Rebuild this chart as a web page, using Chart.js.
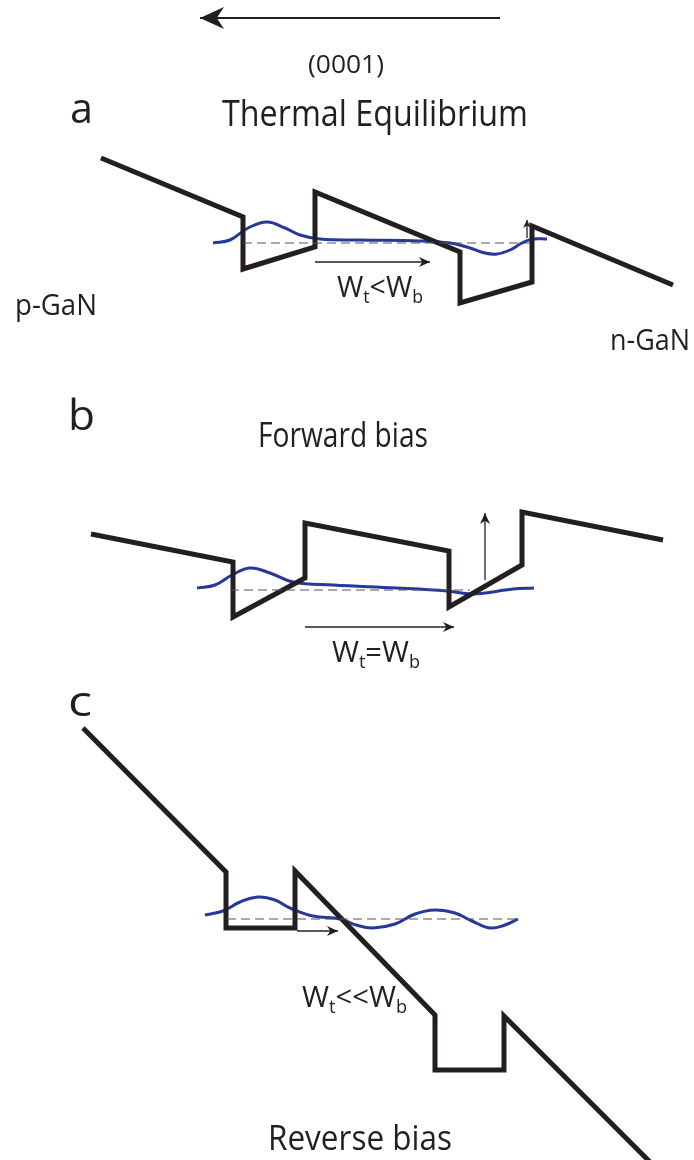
<!DOCTYPE html>
<html>
<head>
<meta charset="utf-8">
<script src="https://cdn.jsdelivr.net/npm/chart.js@4.4.0/dist/chart.umd.min.js"></script>
<style>
  html, body { margin: 0; padding: 0; background: #fff; }
  #wrap { width: 694px; height: 1160px; }
</style>
</head>
<body>
<div id="wrap"><canvas id="band" width="694" height="1160"></canvas></div>
<script>
// (position, energy) points, energy axis drawn downwards like the figure
const bandA  = [[101,158],[243,217],[243,269],[315,247],[315,192],[460,252],[460,303],[532,282],[532,226],[673,285]];
const waveA  = [[213,243],[230,240],[248,228],[267,222],[285,228],[300,235],[320,239],[360,240],[420,241],[450,243],[470,248],[485,253],[497,254],[510,250],[522,243],[533,239],[547,239]];
const fermiA = [[243,243],[530,243]];

const bandB  = [[91,534],[233,562],[233,617],[305,578],[305,523],[449,551],[449,607],[522,565],[522,512],[663,540]];
const waveB  = [[197,588],[215,585],[232,575],[250,568],[270,573],[293,582],[333,585],[397,588],[447,591],[473,594],[513,589],[534,588]];
const fermiB = [[230,590],[470,590]];

const bandC  = [[83,728],[226,872],[226,928],[295,928],[295,871],[435,1015],[435,1070],[504,1070],[504,1016],[652,1164]];
const waveC  = [[205,915],[223,911],[240,902],[258,897],[275,900],[290,908],[313,916],[340,919],[356,925],[373,928],[395,924],[415,914],[435,910],[455,913],[472,921],[490,928],[505,925],[518,919]];
const fermiC = [[227,919],[520,919]];

// arrows: start -> tip
const growthArrow = [[500,18],[200,18]];
const tunnelA = [[315,262],[430,262]];
const escapeA = [[527,238],[527,220]];
const tunnelB = [[305,627],[454,627]];
const escapeB = [[485,580],[485,513]];
const tunnelC = [[297,931],[338,931]];

// text
const directionLabel = '(0001)';
const panelLetters = ['a', 'b', 'c'];
const panelTitles = ['Thermal Equilibrium', 'Forward bias', 'Reverse bias'];
const regionNames = ['p-GaN', 'n-GaN'];
const widthRelations = ['<', '=', '<<'];

const ink = '#231f20';
const waveBlue = '#26399a';

const pts = a => a.map(([x, y]) => ({ x, y }));

function band(d) {
  return { data: pts(d), showLine: true, borderColor: ink, borderWidth: 5, pointRadius: 0, borderJoinStyle: 'miter', tension: 0 };
}
function wave(d) {
  return { data: pts(d), showLine: true, borderColor: waveBlue, borderWidth: 3, pointRadius: 0, tension: 0.4 };
}
function fermi(d) {
  return { data: pts(d), showLine: true, borderColor: '#555', borderWidth: 1, borderDash: [9, 5], pointRadius: 0 };
}
function arrow(d, head, w) {
  return { data: pts(d), showLine: true, borderColor: ink, borderWidth: w, pointRadius: 0, arrowHead: head };
}

const wt = rel => [{ t: 'W' }, { t: 't', sub: true }, { t: rel }, { t: 'W' }, { t: 'b', sub: true }];

// text layout: left x, baseline y, target width, font size
const textLayout = [
  { parts: [{ t: directionLabel }], x: 308, y: 73, w: 76, size: 26 },
  { parts: [{ t: panelLetters[0] }], x: 70, y: 123, w: 23, size: 42 },
  { parts: [{ t: panelTitles[0] }], x: 222, y: 126, w: 306, size: 37 },
  { parts: [{ t: regionNames[0] }], x: 15, y: 315, w: 82, size: 30 },
  { parts: [{ t: regionNames[1] }], x: 610, y: 350, w: 80, size: 30 },
  { parts: wt(widthRelations[0]), x: 337, y: 297, w: 86, size: 29 },
  { parts: [{ t: panelLetters[1] }], x: 68, y: 430, w: 27, size: 42 },
  { parts: [{ t: panelTitles[1] }], x: 258, y: 447, w: 170, size: 35 },
  { parts: wt(widthRelations[1]), x: 332, y: 662, w: 88, size: 29 },
  { parts: [{ t: panelLetters[2] }], x: 68, y: 716, w: 24, size: 42 },
  { parts: wt(widthRelations[2]), x: 302, y: 1007, w: 105, size: 29 },
  { parts: [{ t: panelTitles[2] }], x: 268, y: 1150, w: 184, size: 35 }
];

const arrowHeads = {
  id: 'arrowHeads',
  afterDatasetsDraw(chart) {
    const ctx = chart.ctx;
    chart.data.datasets.forEach((ds, i) => {
      if (!ds.arrowHead) return;
      const p = chart.getDatasetMeta(i).data;
      const a = p[p.length - 2], b = p[p.length - 1];
      const ang = Math.atan2(b.y - a.y, b.x - a.x);
      const { len, half } = ds.arrowHead;
      ctx.save();
      ctx.translate(b.x, b.y);
      ctx.rotate(ang);
      ctx.fillStyle = ink;
      ctx.beginPath();
      ctx.moveTo(0, 0);
      ctx.lineTo(-len, -half);
      ctx.lineTo(-len * 0.7, 0);
      ctx.lineTo(-len, half);
      ctx.closePath();
      ctx.fill();
      ctx.restore();
    });
  }
};

const labels = {
  id: 'labels',
  afterDraw(chart) {
    const { ctx, scales: { x, y } } = chart;
    ctx.save();
    ctx.fillStyle = ink;
    ctx.textBaseline = 'alphabetic';
    textLayout.forEach(l => {
      const font = s => `${s}px "Open Sans", sans-serif`;
      let natural = 0;
      l.parts.forEach(p => {
        ctx.font = font(p.sub ? l.size * 0.62 : l.size);
        natural += ctx.measureText(p.t).width;
      });
      const sx = l.w / natural;
      ctx.save();
      ctx.translate(x.getPixelForValue(l.x), y.getPixelForValue(l.y));
      ctx.scale(sx, 1);
      let cx = 0;
      l.parts.forEach(p => {
        const s = p.sub ? l.size * 0.62 : l.size;
        ctx.font = font(s);
        ctx.fillText(p.t, cx, p.sub ? l.size * 0.22 : 0);
        cx += ctx.measureText(p.t).width;
      });
      ctx.restore();
    });
    ctx.restore();
  }
};

new Chart(document.getElementById('band'), {
  type: 'scatter',
  data: {
    datasets: [
      fermi(fermiA), fermi(fermiB), fermi(fermiC),
      band(bandA), band(bandB), band(bandC),
      wave(waveA), wave(waveB), wave(waveC),
      arrow(growthArrow, { len: 24, half: 11 }, 2),
      arrow(tunnelA, { len: 11, half: 5 }, 1.3),
      arrow(escapeA, { len: 8, half: 4 }, 1.3),
      arrow(tunnelB, { len: 11, half: 5 }, 1.3),
      arrow(escapeB, { len: 11, half: 5 }, 1.3),
      arrow(tunnelC, { len: 11, half: 5 }, 1.3)
    ]
  },
  options: {
    responsive: false,
    animation: false,
    events: [],
    clip: false,
    layout: { padding: 0 },
    plugins: { legend: { display: false }, tooltip: { enabled: false } },
    scales: {
      x: { type: 'linear', min: 0, max: 694, display: false },
      y: { type: 'linear', min: 0, max: 1160, reverse: true, display: false }
    }
  },
  plugins: [arrowHeads, labels]
});
</script>
</body>
</html>
